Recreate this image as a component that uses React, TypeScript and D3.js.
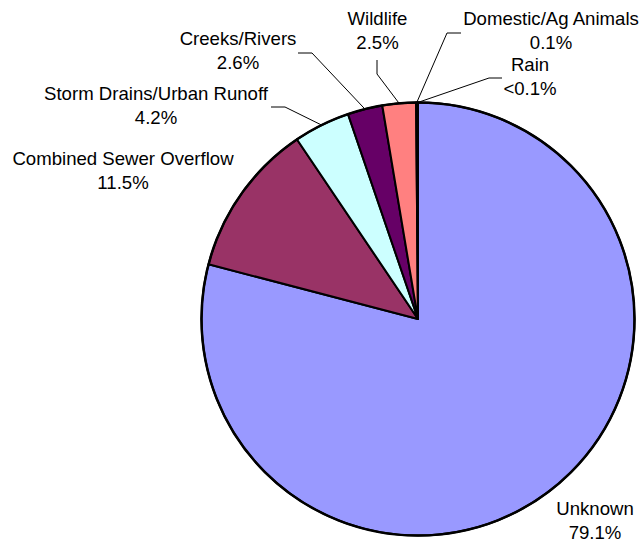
import React from 'react';
import * as d3 from 'd3';

const categories = [
  'Unknown',
  'Combined Sewer Overflow',
  'Storm Drains/Urban Runoff',
  'Creeks/Rivers',
  'Wildlife',
  'Domestic/Ag Animals',
  'Rain'
];
const values = [79.1, 11.5, 4.2, 2.6, 2.5, 0.1, 0.04];
const valueLabels = ['79.1%', '11.5%', '4.2%', '2.6%', '2.5%', '0.1%', '<0.1%'];
const colors = ['#9999FF', '#993366', '#CCFFFF', '#660066', '#FF8080', '#FFFFCC', '#FFFFFF'];

// label placement, in the order of categories (text centre + first baseline, leader elbow/end)
const labelLayout = [
  { x: 595, y: 515, leader: null },
  { x: 123, y: 165, leader: null },
  { x: 156, y: 100, leader: [[285, 107], [271, 107]] },
  { x: 238, y: 45, leader: [[312, 53], [298, 53]] },
  { x: 377.5, y: 25, leader: [[377, 74], [377, 60]] },
  { x: 551, y: 25, leader: [[447, 33], [461, 33]] },
  { x: 530, y: 71, leader: [[489, 78], [502, 78]] }
];

const width = 642;
const height = 541;
const cx = 418;
const cy = 319;
const radius = 216.5;

export default function App() {
  const data = categories.map((c, i) => ({ name: c, value: values[i], i }));
  const pie = d3.pie<any>().sort(null).value((d) => d.value);
  const arcs = pie(data);
  const arc = d3.arc<any>().innerRadius(0).outerRadius(radius);
  const line = d3.line();

  return (
    <svg width={width} height={height}
      style={{ position: 'absolute', left: 0, top: 0, background: '#fff' }}
      fontFamily="'Liberation Sans', Arial, sans-serif" fontSize={18.6}>
      <g transform={`translate(${cx},${cy})`}>
        {arcs.map((a, i) => (
          <path key={i} d={arc(a) || ''} fill={colors[i]} stroke="#000" strokeWidth={2} strokeLinejoin="round" />
        ))}
        <circle r={radius} fill="none" stroke="#000" strokeWidth={2.5} />
      </g>
      {arcs.map((a, i) => {
        const lay = labelLayout[i];
        if (!lay.leader) return null;
        const mid = (a.startAngle + a.endAngle) / 2;
        const start: [number, number] = [cx + radius * Math.sin(mid), cy - radius * Math.cos(mid)];
        const pts = [start, ...(lay.leader as [number, number][])];
        return <path key={'l' + i} d={line(pts) || ''} fill="none" stroke="#000" strokeWidth={1} />;
      })}
      {labelLayout.map((lay, i) => (
        <text key={'t' + i} x={lay.x} y={lay.y} textAnchor="middle" fill="#000">
          <tspan x={lay.x}>{categories[i]}</tspan>
          <tspan x={lay.x} dy={23.5}>{valueLabels[i]}</tspan>
        </text>
      ))}
    </svg>
  );
}
